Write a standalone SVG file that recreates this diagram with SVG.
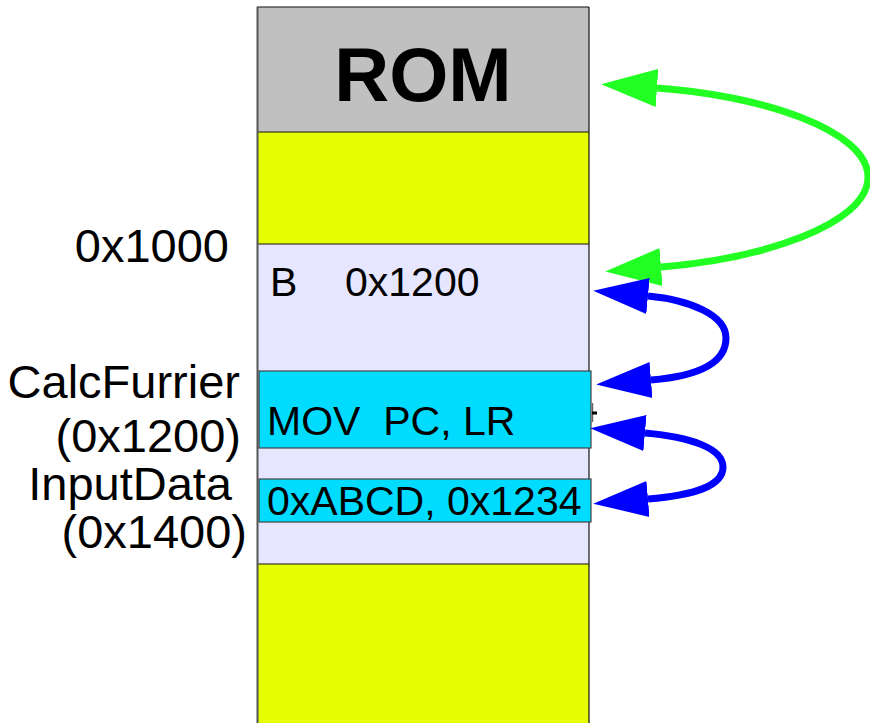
<svg xmlns="http://www.w3.org/2000/svg" width="870" height="723" viewBox="0 0 870 723">
  <style>
    .lbl { font-family: "Liberation Sans", Arial, sans-serif; fill: #000; white-space: pre; }
    .side { font-size: 47px; text-anchor: end; }
    .cell { font-size: 41px; }
    .rom { font-size: 76px; font-weight: bold; text-anchor: middle; }
    .sep { stroke: #111; stroke-width: 1.2; fill: none; }
    .code { fill: #00dcff; stroke: #444; stroke-width: 1.2; }
    .green { fill: none; stroke: #22ff22; stroke-width: 7; marker-start: url(#headG); marker-end: url(#headG); }
    .blue { fill: none; stroke: #0000ff; stroke-width: 7; marker-start: url(#headB); marker-end: url(#headB); }
  </style>
  <defs>
    <marker id="headG" markerUnits="userSpaceOnUse" markerWidth="60" markerHeight="40" refX="0" refY="19" orient="auto-start-reverse" viewBox="0 0 60 38">
      <path d="M0,0 L56,19 L0,38 Z" fill="#22ff22"/>
    </marker>
    <marker id="headB" markerUnits="userSpaceOnUse" markerWidth="60" markerHeight="40" refX="0" refY="18" orient="auto-start-reverse" viewBox="0 0 60 36">
      <path d="M0,0 L55,18 L0,36 Z" fill="#0000ff"/>
    </marker>
  </defs>

  <rect width="870" height="723" fill="#ffffff"/>

  <!-- memory column -->
  <g id="rom">
    <rect x="257" y="7" width="332" height="125" fill="#c0c0c0"/>
    <text class="lbl rom" x="423" y="101">ROM</text>
  </g>
  <g id="free-upper">
    <rect x="257" y="132" width="332" height="112" fill="#e6ff00"/>
  </g>
  <g id="program">
    <rect x="257" y="244" width="332" height="320" fill="#e6e6ff"/>
    <text class="lbl cell" y="296"><tspan x="270">B</tspan><tspan x="345">0x1200</tspan></text>
  </g>
  <g id="free-lower">
    <rect x="257" y="564" width="332" height="170" fill="#e6ff00"/>
  </g>
  <g id="column-lines">
    <line class="sep" x1="257" y1="7" x2="589" y2="7"/>
    <line class="sep" x1="257" y1="132" x2="589" y2="132"/>
    <line class="sep" x1="257" y1="244" x2="589" y2="244"/>
    <line class="sep" x1="257" y1="564" x2="589" y2="564"/>
    <line x1="257.5" y1="7" x2="257.5" y2="723" stroke="#555" stroke-width="2"/>
    <line class="sep" x1="589" y1="7" x2="589" y2="723"/>
  </g>

  <g id="calc-furrier">
    <rect class="code" x="259" y="371" width="332" height="77"/>
    <text class="lbl cell" x="267" y="435" xml:space="preserve">MOV  PC, LR</text>
    <line x1="592.5" y1="403" x2="592.5" y2="422" stroke="#666" stroke-width="1.5"/>
    <line x1="592" y1="413" x2="597" y2="413" stroke="#000" stroke-width="3"/>
  </g>
  <g id="input-data">
    <rect class="code" x="259" y="479" width="332" height="43"/>
    <text class="lbl cell" x="267" y="515">0xABCD, 0x1234</text>
  </g>

  <!-- address labels -->
  <g id="addr-1000">
    <text class="lbl side" x="229" y="262">0x1000</text>
  </g>
  <g id="addr-1200">
    <text class="lbl side" x="240" y="398">CalcFurrier</text>
    <text class="lbl side" x="241" y="452">(0x1200)</text>
  </g>
  <g id="addr-1400">
    <text class="lbl side" x="232" y="500">InputData</text>
    <text class="lbl side" x="247" y="548">(0x1400)</text>
  </g>

  <!-- jumps -->
  <g id="connectors">
    <path class="green" d="M657,88 C760,95 868,130 868,177 C868,225 760,259 661,267"/>
    <path class="blue" d="M648,296 C690,300 726,315 726,338 C726,362 700,376 651,380"/>
    <path class="blue" d="M645,433 C690,437 723,448 723,467 C723,486 695,495 648,499"/>
  </g>
</svg>
